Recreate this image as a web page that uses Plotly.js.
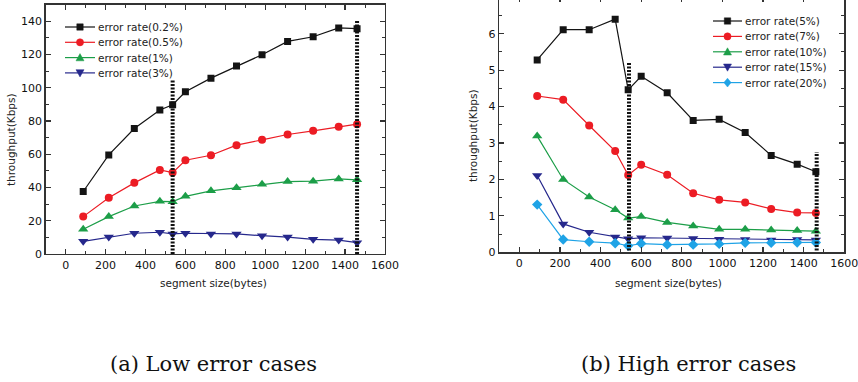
<!DOCTYPE html>
<html>
<head>
<meta charset="utf-8">
<script src="https://cdn.plot.ly/plotly-3.0.1.min.js"></script>
<style>
  html, body { margin: 0; padding: 0; background: #fff; overflow: hidden; }
  #chart { position: absolute; left: 0; top: -4px; width: 858px; height: 386px; }
</style>
</head>
<body>
<div id="chart"></div>
<script>
// ---------- data ----------
const segmentSizes = [88, 216, 344, 472, 536, 600, 728, 856, 984, 1112, 1240, 1368, 1460];

// (a) low error cases
const lowNames = ["error rate(0.2%)", "error rate(0.5%)", "error rate(1%)", "error rate(3%)"];
const low02 = [37.6, 59.6, 75.5, 86.6, 89.8, 97.6, 105.8, 113.1, 119.9, 127.9, 130.7, 136.0, 135.6];
const low05 = [22.5, 33.9, 42.8, 50.6, 49.0, 56.4, 59.4, 65.5, 68.7, 71.9, 74.1, 76.5, 78.1];
const low1  = [14.9, 22.5, 28.9, 31.7, 31.5, 34.7, 38.0, 39.8, 42.0, 43.6, 43.8, 45.2, 44.6];
const low3  = [7.6, 10.2, 12.5, 13.1, 12.1, 12.5, 12.1, 12.1, 11.0, 10.2, 8.8, 8.4, 6.8];

// (b) high error cases
const highNames = ["error rate(5%)", "error rate(7%)", "error rate(10%)", "error rate(15%)", "error rate(20%)"];
const high5  = [5.28, 6.11, 6.11, 6.40, 4.46, 4.83, 4.38, 3.62, 3.65, 3.29, 2.66, 2.42, 2.21];
const high7  = [4.29, 4.19, 3.48, 2.78, 2.12, 2.40, 2.13, 1.62, 1.44, 1.37, 1.19, 1.09, 1.08];
const high10 = [3.19, 2.00, 1.52, 1.17, 0.94, 0.98, 0.82, 0.72, 0.63, 0.63, 0.61, 0.60, 0.58];
const high15 = [2.11, 0.78, 0.55, 0.42, 0.37, 0.40, 0.39, 0.38, 0.36, 0.35, 0.34, 0.35, 0.34];
const high20 = [1.31, 0.35, 0.29, 0.25, 0.18, 0.24, 0.21, 0.21, 0.23, 0.26, 0.26, 0.27, 0.27];

// dotted reference lines (segment size, bottom, top)
const refLowX = [536, 1460];
const refLowBottom = [0, 0];
const refLowTop = [105, 141];
const refHighX = [540, 1464];
const refHighBottom = [0.05, 0.05];
const refHighTop = [5.2, 2.75];

// tick labels and texts
const xTicks = [0, 200, 400, 600, 800, 1000, 1200, 1400, 1600];
const yTicksLow = [0, 20, 40, 60, 80, 100, 120, 140];
const yTicksHigh = [0, 1, 2, 3, 4, 5, 6];
const xTitle = "segment size(bytes)";
const yTitle = "throughput(Kbps)";
const captions = ["(a) Low error cases", "(b) High error cases"];

// ---------- styling ----------
const colors = ["#141414", "#ec1c24", "#1c9e48", "#26288c", "#1fa3e6"];
const symbols = ["square", "circle", "triangle-up", "triangle-down", "diamond"];
const sizes = [7, 8, 9, 9, 8];
const FONT = "DejaVu Sans, Arial, sans-serif";

const traces = [];
[low02, low05, low1, low3].forEach((ys, i) => {
  traces.push({
    x: segmentSizes, y: ys, name: lowNames[i], type: "scatter", mode: "lines+markers",
    xaxis: "x", yaxis: "y", showlegend: false,
    line: { color: colors[i], width: 1.2 },
    marker: { symbol: symbols[i], size: sizes[i], color: colors[i] }
  });
});
[high5, high7, high10, high15, high20].forEach((ys, i) => {
  traces.push({
    x: segmentSizes, y: ys, name: highNames[i], type: "scatter", mode: "lines+markers",
    xaxis: "x2", yaxis: "y2", showlegend: false,
    line: { color: colors[i], width: 1.2 },
    marker: { symbol: symbols[i], size: sizes[i], color: colors[i] }
  });
});
refLowX.forEach((xv, i) => {
  traces.push({
    x: [xv, xv], y: [refLowBottom[i], refLowTop[i]], type: "scatter", mode: "lines",
    xaxis: "x", yaxis: "y", showlegend: false, hoverinfo: "skip",
    line: { color: "#111", width: 4, dash: "2px,1.5px" }
  });
});
refHighX.forEach((xv, i) => {
  traces.push({
    x: [xv, xv], y: [refHighBottom[i], refHighTop[i]], type: "scatter", mode: "lines",
    xaxis: "x2", yaxis: "y2", showlegend: false, hoverinfo: "skip",
    line: { color: "#111", width: 4, dash: "2px,1.5px" }
  });
});

const H = 386, W = 858;
const py = v => 1 - (v + 4) / H;   // page y -> paper y
const px = v => v / W;

function xAxis(domain, anchor) {
  return {
    domain: domain, range: [-100, 1600], tickmode: "array", tickvals: xTicks, anchor: anchor,
    ticks: "inside", ticklen: 5, tickwidth: 1.2, tickcolor: "#333",
    showline: true, linecolor: "#333", linewidth: 1.4, mirror: "allticks",
    showgrid: false, zeroline: false, ticklabeloverflow: "allow",
    tickfont: { family: FONT, size: 11, color: "#111" },
    minor: { dtick: 100, tick0: 0, ticks: "inside", ticklen: 3, tickcolor: "#333", tickwidth: 1, showgrid: false },
    fixedrange: true
  };
}
function yAxis(domain, range, tickvals, minor, anchor) {
  return {
    domain: domain, range: range, tickmode: "array", tickvals: tickvals, anchor: anchor,
    ticks: "inside", ticklen: 5, tickwidth: 1.2, tickcolor: "#333",
    showline: true, linecolor: "#333", linewidth: 1.4, mirror: "allticks",
    showgrid: false, zeroline: false, ticklabeloverflow: "allow",
    tickfont: { family: FONT, size: 11, color: "#111" },
    minor: { dtick: minor, tick0: 0, ticks: "inside", ticklen: 3, tickcolor: "#333", tickwidth: 1, showgrid: false },
    fixedrange: true
  };
}

const ann = (text, x, y, size, extra) => Object.assign({
  text: text, xref: "paper", yref: "paper", x: px(x), y: py(y),
  xanchor: "center", yanchor: "middle", showarrow: false,
  font: { family: FONT, size: size, color: "#222" }
}, extra || {});

// ---------- hand-built legends (layout shapes + annotations) ----------
const shapes = [];
const annotations = [
  ann(xTitle, 213, 283, 10.5),
  ann(yTitle, 11, 140, 10.5, { textangle: -90 }),
  ann(xTitle, 668, 283, 10.5),
  ann(yTitle, 473, 136, 10.5, { textangle: -90 }),
  ann(captions[0], 213, 364, 21, { font: { family: "DejaVu Serif, Liberation Serif, serif", size: 21, color: "#111" } }),
  ann(captions[1], 688, 364, 21, { font: { family: "DejaVu Serif, Liberation Serif, serif", size: 21, color: "#111" } })
];

function legendMarker(sym, cx, cy, r, color) {
  const base = { xref: "paper", yref: "paper", fillcolor: color, line: { color: color, width: 0.5 } };
  if (sym === "square") {
    shapes.push(Object.assign({ type: "rect", x0: px(cx - r), x1: px(cx + r), y0: py(cy + r), y1: py(cy - r) }, base));
  } else if (sym === "circle") {
    shapes.push(Object.assign({ type: "circle", x0: px(cx - r), x1: px(cx + r), y0: py(cy + r), y1: py(cy - r) }, base));
  } else {
    let pts;
    if (sym === "triangle-up") pts = [[cx, cy - r], [cx + r, cy + r * 0.8], [cx - r, cy + r * 0.8]];
    else if (sym === "triangle-down") pts = [[cx, cy + r], [cx + r, cy - r * 0.8], [cx - r, cy - r * 0.8]];
    else pts = [[cx, cy - r * 1.1], [cx + r * 0.9, cy], [cx, cy + r * 1.1], [cx - r * 0.9, cy]];
    const path = "M" + pts.map(p => px(p[0]) + "," + py(p[1])).join(" L") + " Z";
    shapes.push(Object.assign({ type: "path", path: path }, base));
  }
}

function buildLegend(names, x0, x1, textX, y0, step) {
  names.forEach((name, i) => {
    const cy = y0 + i * step;
    shapes.push({ type: "line", xref: "paper", yref: "paper",
      x0: px(x0), x1: px(x1), y0: py(cy), y1: py(cy), line: { color: colors[i], width: 1.2 } });
    const r = symbols[i] === "square" ? 3.2 : (symbols[i] === "circle" ? 3.6 : 4);
    legendMarker(symbols[i], (x0 + x1) / 2, cy, r, colors[i]);
    annotations.push({
      text: name, xref: "paper", yref: "paper", x: px(textX), y: py(cy),
      xanchor: "left", yanchor: "middle", showarrow: false,
      font: { family: FONT, size: 10.5, color: "#222" }
    });
  });
}
buildLegend(lowNames, 65, 95, 96, 27, 15.3);
buildLegend(highNames, 713, 742, 743, 21, 15.4);

const layout = {
  width: W, height: H,
  margin: { l: 0, r: 0, t: 0, b: 0 },
  paper_bgcolor: "#fff", plot_bgcolor: "#fff",
  showlegend: false,
  xaxis: xAxis([px(45.7), px(385)], "y"),
  yaxis: yAxis([py(254), py(4.7)], [0, 150], yTicksLow, 10, "x"),
  xaxis2: xAxis([px(499), px(844.3)], "y2"),
  yaxis2: yAxis([py(252.3), py(-2.7)], [0, 7], yTicksHigh, 0.5, "x2"),
  shapes: shapes,
  annotations: annotations
};

Plotly.newPlot("chart", traces, layout, { staticPlot: true, displayModeBar: false });
</script>
</body>
</html>
